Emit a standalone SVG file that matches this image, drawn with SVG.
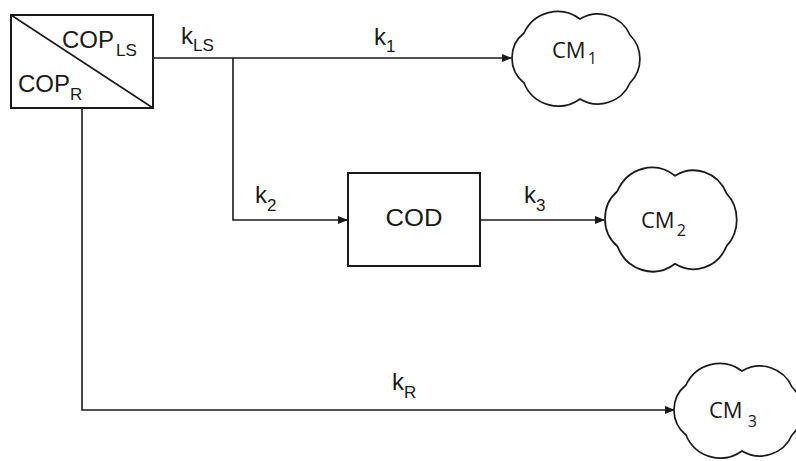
<svg xmlns="http://www.w3.org/2000/svg" width="796" height="461" viewBox="0 0 796 461">
<style>
.ln{fill:none;stroke:#1a1a1a;stroke-width:1.6}
.bx{fill:#fff;stroke:#1a1a1a;stroke-width:2}
.cl{fill:#fff;stroke:#1a1a1a;stroke-width:1.7}
.t{font-family:"Liberation Sans",Arial,sans-serif;font-size:24px;fill:#1a1a1a}
.s{font-size:17px}
.cm{font-family:"Open Sans","Noto Sans",sans-serif;font-size:22px;fill:#1a1a1a}
.cs{font-size:16px}
</style>
<defs>
<marker id="ah" markerWidth="10" markerHeight="8" refX="9" refY="4" orient="auto" markerUnits="userSpaceOnUse">
<path d="M0,0 L10,4 L0,8 Z" fill="#1a1a1a"/>
</marker>
<path id="cloud" d="M12,72 A32,32 0 0 1 12,22 A37,37 0 0 1 68,8 A35,35 0 0 1 118,24 A34,34 0 0 1 118,72 A35,35 0 0 1 68,88 A37,37 0 0 1 12,72 Z"/>
</defs>
<g id="connectors">
<path class="ln" d="M153,58 H511" marker-end="url(#ah)"/>
<path class="ln" d="M233,58 V220 H347" marker-end="url(#ah)"/>
<path class="ln" d="M480,220 H604" marker-end="url(#ah)"/>
<path class="ln" d="M82,108 V410 H674" marker-end="url(#ah)"/>
</g>
<g id="labels">
<text class="t" x="181" y="44">k<tspan class="s" dy="7">LS</tspan></text>
<text class="t" x="374" y="45">k<tspan class="s" dy="7">1</tspan></text>
<text class="t" x="255" y="203">k<tspan class="s" dy="8">2</tspan></text>
<text class="t" x="524" y="203">k<tspan class="s" dy="8">3</tspan></text>
<text class="t" x="392" y="390">k<tspan class="s" dy="8">R</tspan></text>
</g>
<g id="cop">
<rect class="bx" x="11" y="15" width="142" height="93"/>
<line class="ln" x1="11" y1="15" x2="153" y2="108" stroke-width="1.8"/>
<text class="t" x="62" y="48">COP<tspan class="s" dx="2" dy="8">LS</tspan></text>
<text class="t" x="18" y="92">COP<tspan class="s" dy="8">R</tspan></text>
</g>
<g id="cod">
<rect class="bx" x="348" y="173" width="132" height="93"/>
<text class="t" x="414" y="226" text-anchor="middle" textLength="57" lengthAdjust="spacingAndGlyphs">COD</text>
</g>
<g id="cm1">
<use href="#cloud" class="cl" transform="translate(512,11)"/>
<text class="cm" x="552" y="58">CM<tspan class="cs" dx="2" dy="6">1</tspan></text>
</g>
<g id="cm2">
<use href="#cloud" class="cl" transform="translate(605,167) scale(1.03,1.1)"/>
<text class="cm" x="641" y="228">CM<tspan class="cs" dx="2" dy="8">2</tspan></text>
</g>
<g id="cm3">
<use href="#cloud" class="cl" transform="translate(674,363)"/>
<text class="cm" x="709" y="418">CM<tspan class="cs" dx="5" dy="9">3</tspan></text>
</g>
</svg>
